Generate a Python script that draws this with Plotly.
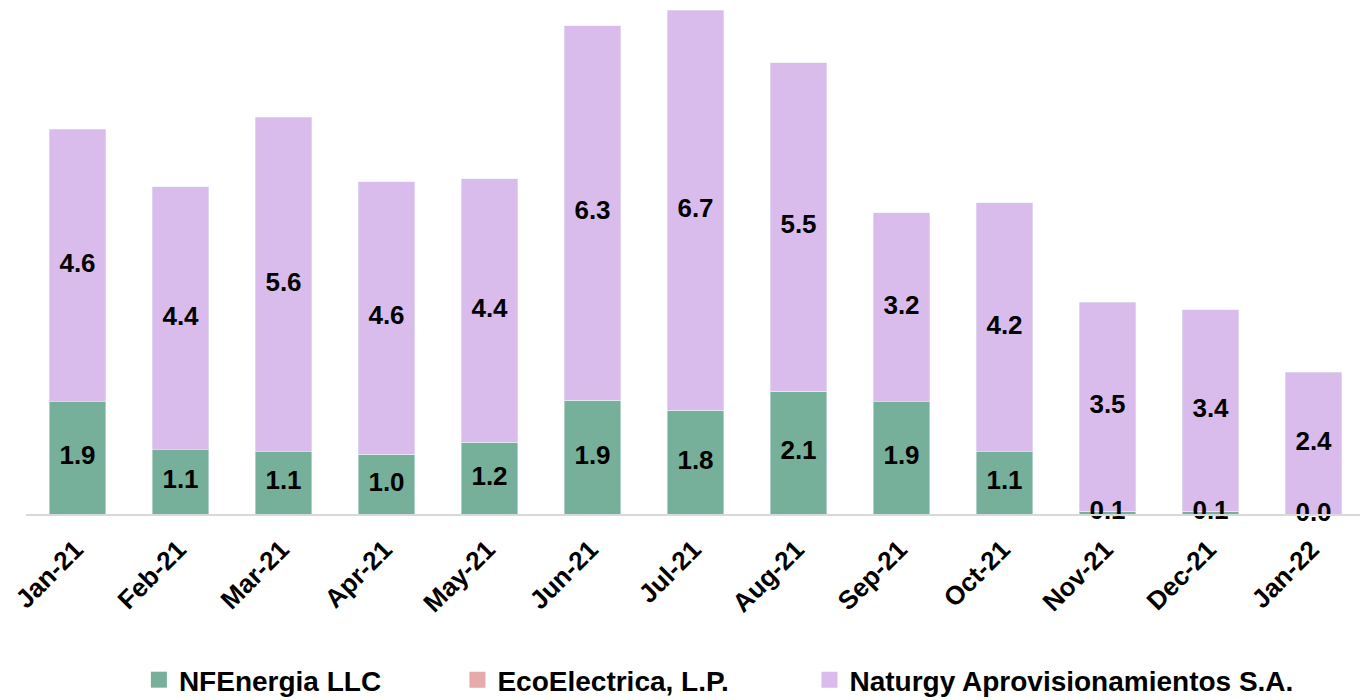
import plotly.graph_objects as go

months = ["Jan-21", "Feb-21", "Mar-21", "Apr-21", "May-21", "Jun-21", "Jul-21",
          "Aug-21", "Sep-21", "Oct-21", "Nov-21", "Dec-21", "Jan-22"]
nfenergia = [1.89, 1.08, 1.05, 1.01, 1.21, 1.92, 1.75, 2.07, 1.89, 1.05, 0.05, 0.05, 0.0]
ecoelectrica = [0.0] * 13
naturgy = [4.60, 4.44, 5.64, 4.59, 4.44, 6.31, 6.74, 5.54, 3.19, 4.20, 3.52, 3.39, 2.39]

series_names = ["NFEnergia LLC", "EcoElectrica, L.P.", "Naturgy Aprovisionamientos S.A."]
series_colors = ["#76B09A", "#E6AAAA", "#D9BCEB"]

FONT = "Liberation Sans, Arial, sans-serif"
lab_font = dict(family=FONT, size=26, color="black")

fig = go.Figure()
for vals, name, col in zip([nfenergia, ecoelectrica, naturgy], series_names, series_colors):
    fig.add_trace(go.Bar(x=months, y=vals, name=name, marker_color=col,
                         textposition="none", showlegend=False))

# legend entries (one legend per series so each can be placed like the original)
legend_keys = ["legend", "legend2", "legend3"]
for name, col, lk in zip(series_names, series_colors, legend_keys):
    fig.add_trace(go.Scatter(x=[None], y=[None], mode="markers", name=f"<b>{name}</b>",
                             marker=dict(symbol="square", size=16, color=col),
                             legend=lk, showlegend=True, hoverinfo="skip"))

# value labels drawn on top of all bars
green_mid = [v / 2 for v in nfenergia]
purple_mid = [g + e + p / 2 for g, e, p in zip(nfenergia, ecoelectrica, naturgy)]
fig.add_trace(go.Scatter(x=months, y=green_mid, mode="text",
                         text=[f"<b>{v:.1f}</b>" for v in nfenergia],
                         textposition="middle center", textfont=lab_font,
                         showlegend=False, hoverinfo="skip", cliponaxis=False))
fig.add_trace(go.Scatter(x=months, y=purple_mid, mode="text",
                         text=[f"<b>{v:.1f}</b>" for v in naturgy],
                         textposition="middle center", textfont=lab_font,
                         showlegend=False, hoverinfo="skip", cliponaxis=False))

leg_common = dict(orientation="h", xanchor="left", y=-0.328, yanchor="middle",
                  font=dict(family=FONT, size=28, color="black"),
                  itemsizing="trace", bgcolor="rgba(0,0,0,0)")

fig.update_layout(
    barmode="stack", bargap=0.447,
    width=1368, height=700,
    margin=dict(l=18, r=11, t=0, b=194),
    plot_bgcolor="white", paper_bgcolor="white",
    font=dict(family=FONT, size=26, color="black"),
    showlegend=True,
    legend=dict(x=0.0843, **leg_common),
    legend2=dict(x=0.3222, **leg_common),
    legend3=dict(x=0.5851, **leg_common),
    xaxis=dict(tickangle=-45, showline=True, linecolor="#D9D9D9", linewidth=2,
               ticks="", automargin=False, range=[-0.5, len(months) - 0.5],
               ticklabelstandoff=8, ticklabelshift=-2,
               tickfont=dict(family=FONT, size=26, color="black"),
               tickprefix="<b>", ticksuffix="</b>"),
    yaxis=dict(visible=False, range=[0, 8.53]),
)
fig.write_html("out.html")
